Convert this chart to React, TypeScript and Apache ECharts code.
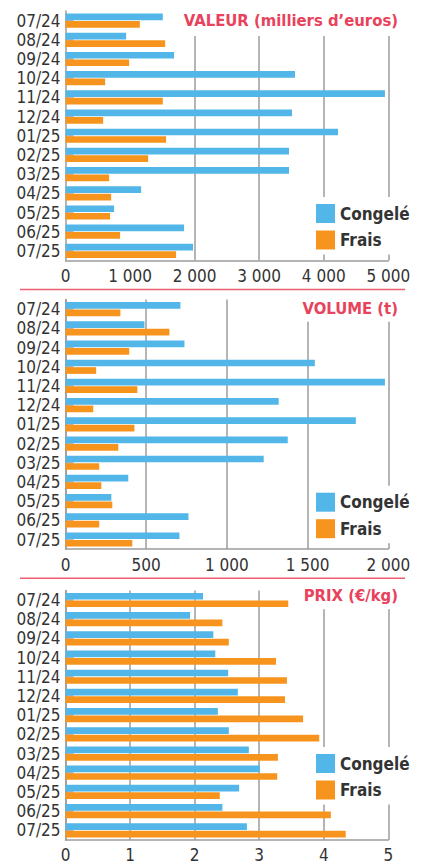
import React, { useEffect, useRef } from "react";
import * as echarts from "echarts";

const categories = ["07/24", "08/24", "09/24", "10/24", "11/24", "12/24", "01/25", "02/25", "03/25", "04/25", "05/25", "06/25", "07/25"];
const seriesNames = ["Congelé", "Frais"];

const valeurCongele = [1507, 939, 1682, 3555, 4948, 3509, 4221, 3462, 3462, 1171, 753, 1837, 1976];
const valeurFrais = [1151, 1543, 986, 614, 1507, 583, 1558, 1280, 676, 707, 691, 846, 1713];

const volumeCongele = [712, 489, 737, 1545, 1979, 1321, 1799, 1377, 1228, 389, 284, 762, 706];
const volumeFrais = [340, 644, 395, 190, 445, 172, 427, 327, 209, 222, 290, 209, 414];

const prixCongele = [2.13, 1.93, 2.29, 2.32, 2.52, 2.67, 2.36, 2.53, 2.84, 3.01, 2.69, 2.43, 2.81];
const prixFrais = [3.45, 2.43, 2.53, 3.26, 3.43, 3.40, 3.68, 3.93, 3.29, 3.28, 2.39, 4.11, 4.34];

const titles = ["VALEUR (milliers d\u2019euros)", "VOLUME (t)", "PRIX (\u20ac/kg)"];
const axisMax = [5000, 2000, 5];
const axisInterval = [1000, 500, 1];
const valeurGridLines = [2000, 3000, 4000, 5000];

const BLUE = "#52b7e8";
const ORANGE = "#f7941e";
const RED = "#e8425c";
const GRAY = "#9c9c9c";
const TEXT = "#333333";
const FONT = "'Liberation Sans Narrow', 'DejaVu Sans Condensed', sans-serif";

const fmt = (v: number) => {
  if (v >= 1000) {
    const th = Math.floor(v / 1000);
    const rest = String(Math.round(v % 1000)).padStart(3, "0");
    return `${th} ${rest}`;
  }
  return String(v);
};

export default function App() {
  const ref = useRef<HTMLDivElement>(null);
  useEffect(() => {
    document.body.style.margin = "0";
    if (!ref.current) return;
    const chart = echarts.init(ref.current, undefined, { renderer: "svg" });

    const gridTops = [11, 299.6, 590.4];
    const titleCfg = [
      { top: 7, padding: [3, 4, 6, 12] },
      { top: 295.7, padding: [3, 4, 3, 12] },
      { top: 582.3, padding: [3, 4, 4, 8] },
    ];
    const legendTops = [197, 485.7, 747];
    const data = [
      [valeurCongele, valeurFrais],
      [volumeCongele, volumeFrais],
      [prixCongele, prixFrais],
    ];

    const grid = gridTops.map((t) => ({ left: 65.5, width: 322.8, top: t, height: 249.5 }));
    const xAxis = [0, 1, 2].map((i) => ({
      type: "value",
      gridIndex: i,
      min: 0,
      max: axisMax[i],
      interval: axisInterval[i],
      axisLine: { show: true, lineStyle: { color: GRAY, width: 1.5 } },
      axisTick: { show: false },
      splitLine: { show: i !== 0, lineStyle: { color: GRAY, width: 1.5 } },
      axisLabel: {
        fontFamily: FONT,
        fontSize: 17,
        color: TEXT,
        margin: 7,
        formatter: (v: number) => fmt(v),
      },
    }));
    const yAxis = [0, 1, 2].map((i) => ({
      type: "category",
      gridIndex: i,
      data: categories,
      inverse: true,
      axisLine: { show: true, lineStyle: { color: GRAY, width: 1.5 } },
      axisTick: { show: true, inside: true, alignWithLabel: true, length: 8, lineStyle: { color: GRAY, width: 1.5 } },
      axisLabel: { fontFamily: FONT, fontSize: 17, color: TEXT, margin: 5, interval: 0 },
    }));

    const series: any[] = [];
    [0, 1, 2].forEach((i) => {
      [0, 1].forEach((s) => {
        const item: any = {
          type: "bar",
          name: seriesNames[s],
          xAxisIndex: i,
          yAxisIndex: i,
          data: data[i][s],
          barWidth: 6.7,
          barGap: "12%",
          itemStyle: { color: s === 0 ? BLUE : ORANGE },
          z: 2,
          silent: true,
        };
        if (i === 0 && s === 0) {
          item.markLine = {
            silent: true,
            z: 1,
            symbol: "none",
            label: { show: false },
            lineStyle: { color: GRAY, width: 1.5, type: "solid" },
            data: valeurGridLines.map((v) => ({ xAxis: v })),
          };
        }
        series.push(item);
      });
    });

    const title = [0, 1, 2].map((i) => ({
      text: titles[i],
      right: 20,
      top: titleCfg[i].top,
      padding: titleCfg[i].padding,
      backgroundColor: "#ffffff",
      textStyle: { fontFamily: FONT, fontSize: 16.5, fontWeight: "bold", color: RED, lineHeight: 20 },
    }));

    const legend = legendTops.map((t) => ({
      data: seriesNames,
      orient: "vertical",
      left: 310,
      top: t,
      padding: [7, 3, 5, 6],
      backgroundColor: "#ffffff",
      itemWidth: 19,
      itemHeight: 19,
      itemGap: 7.5,
      icon: "rect",
      selectedMode: false,
      textStyle: { fontFamily: FONT, fontSize: 17, fontWeight: "bold", color: TEXT },
    }));

    chart.setOption({
      animation: false,
      backgroundColor: "#ffffff",
      title,
      legend,
      grid,
      xAxis,
      yAxis,
      series,
      graphic: [
        { type: "line", shape: { x1: 20, y1: 289.5, x2: 405, y2: 289.5 }, style: { stroke: "#ec5f72", lineWidth: 1.5 }, silent: true },
        { type: "line", shape: { x1: 20, y1: 578.3, x2: 405, y2: 578.3 }, style: { stroke: "#ec5f72", lineWidth: 1.5 }, silent: true },
      ],
    });
    return () => chart.dispose();
  }, []);
  return <div ref={ref} style={{ position: "absolute", left: 0, top: 0, width: 422, height: 865 }} />;
}
